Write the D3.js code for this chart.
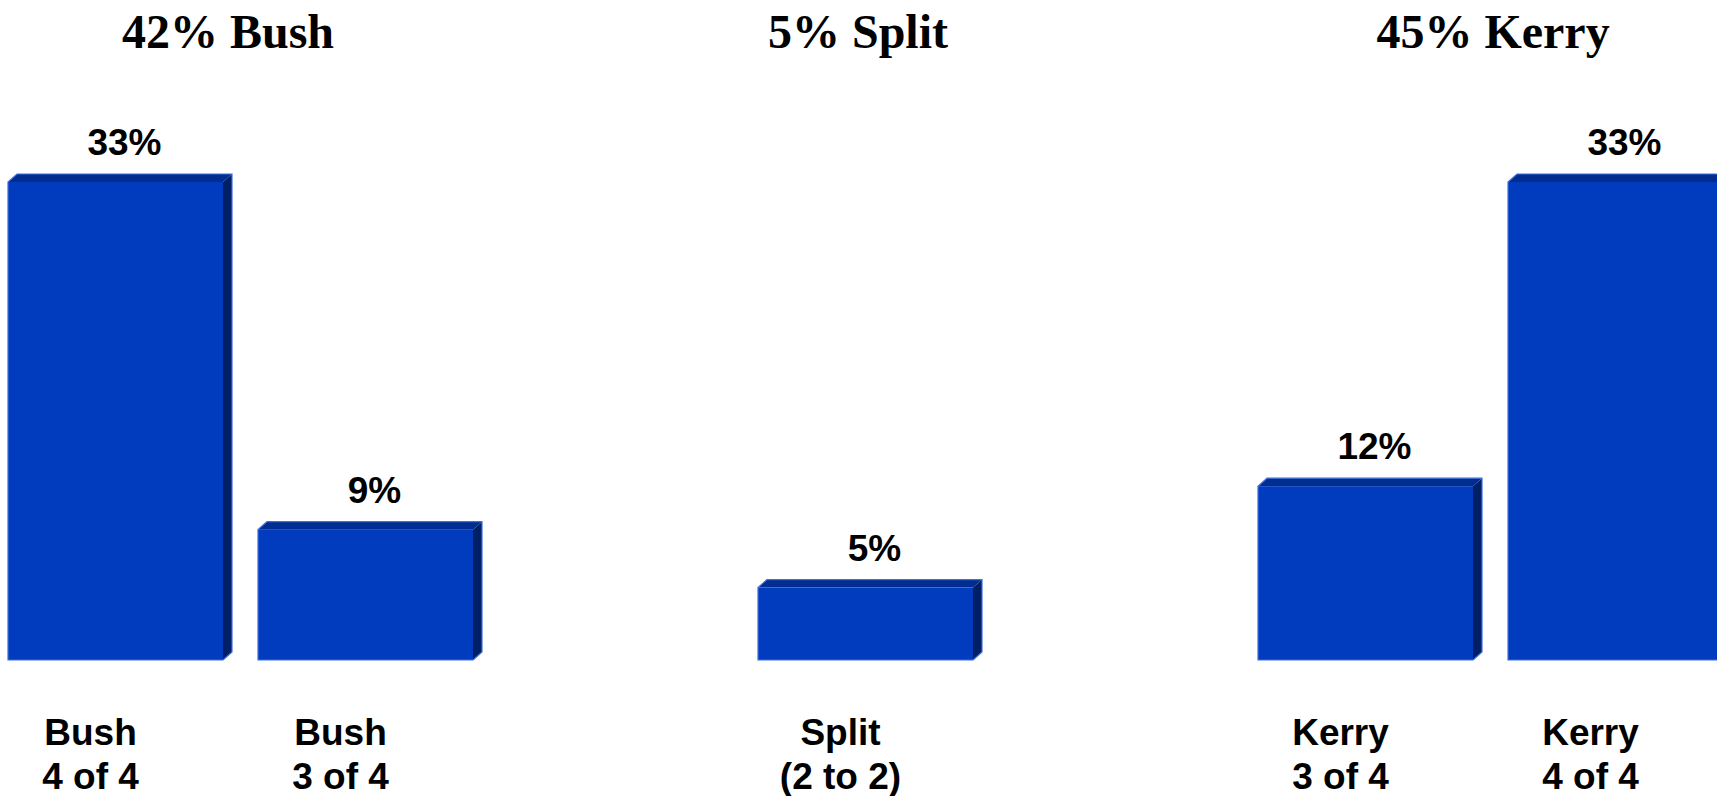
<!DOCTYPE html>
<html>
<head>
<meta charset="utf-8">
<script src="https://cdn.jsdelivr.net/npm/d3@7"></script>
<style>
  html, body { margin: 0; padding: 0; background: #ffffff; overflow: hidden; }
  svg { display: block; }
</style>
</head>
<body>
<svg id="chart" width="1717" height="796"></svg>
<script>
// Slots along the x axis; two of them are empty gaps between the groups.
const slots = ["bush4", "bush3", "gapA", "split", "gapB", "kerry3", "kerry4"];

// Bars: slot, value (%), two-line category label
const barSlots  = ["bush4", "bush3", "split", "kerry3", "kerry4"];
const barValues = [33, 9, 5, 12, 33];
const barLine1  = ["Bush", "Bush", "Split", "Kerry", "Kerry"];
const barLine2  = ["4 of 4", "3 of 4", "(2 to 2)", "3 of 4", "4 of 4"];

// Group headings
const groupTitles = ["42% Bush", "5% Split", "45% Kerry"];
const groupSlotPos = [0.45, 2.97, 5.51];

const svg = d3.select("#chart");

const x = d3.scaleBand()
  .domain(slots)
  .range([8, 1723])
  .paddingInner(0.14)
  .paddingOuter(0);

const y = d3.scaleLinear()
  .domain([0, 33])
  .range([660, 182]);

// slot index -> centre of that slot's bar
const slotCenter = d3.scaleLinear()
  .domain([0, slots.length - 1])
  .range([x(slots[0]) + x.bandwidth() / 2, x(slots[slots.length - 1]) + x.bandwidth() / 2]);

const depthX = 9, depthY = 8;
const cFront = "#003cbd", cTop = "#002d8f", cSide = "#001f66", cEdge = "#3f6ee0";

const bars = barSlots.map((s, i) => ({
  slot: s, value: barValues[i], l1: barLine1[i], l2: barLine2[i]
}));

const g = svg.append("g");

const bar = g.selectAll("g.bar").data(bars).join("g").attr("class", "bar");

// side face
bar.append("path")
  .attr("fill", cSide)
  .attr("d", d => {
    const x1 = x(d.slot) + x.bandwidth(), y0 = y(0), y1 = y(d.value);
    return `M${x1},${y1} L${x1 + depthX},${y1 - depthY} L${x1 + depthX},${y0 - depthY} L${x1},${y0} Z`;
  });
// top face
bar.append("path")
  .attr("fill", cTop)
  .attr("d", d => {
    const x0 = x(d.slot), x1 = x0 + x.bandwidth(), y1 = y(d.value);
    return `M${x0},${y1} L${x0 + depthX},${y1 - depthY} L${x1 + depthX},${y1 - depthY} L${x1},${y1} Z`;
  });
// front face
bar.append("rect")
  .attr("fill", cFront)
  .attr("x", d => x(d.slot))
  .attr("y", d => y(d.value))
  .attr("width", x.bandwidth())
  .attr("height", d => y(0) - y(d.value));
// light outline along the outer edges
bar.append("path")
  .attr("fill", "none")
  .attr("stroke", cEdge)
  .attr("stroke-width", 1.2)
  .attr("d", d => {
    const x0 = x(d.slot), x1 = x0 + x.bandwidth(), y0 = y(0), y1 = y(d.value);
    return `M${x1},${y0} L${x0},${y0} L${x0},${y1} L${x0 + depthX},${y1 - depthY} ` +
           `L${x1 + depthX},${y1 - depthY} L${x1 + depthX},${y0 - depthY} L${x1},${y0}`;
  });

// value labels above each bar
g.selectAll("text.val").data(bars).join("text")
  .attr("class", "val")
  .attr("x", d => x(d.slot) + x.bandwidth() / 2 + 9)
  .attr("y", d => y(d.value) - 27)
  .attr("text-anchor", "middle")
  .attr("font-family", "'Liberation Sans', Arial, sans-serif")
  .attr("font-weight", "bold")
  .attr("font-size", 37)
  .attr("fill", "#000")
  .text(d => d.value + "%");

// category labels below the bars
const cat = g.selectAll("text.cat").data(bars).join("text")
  .attr("class", "cat")
  .attr("text-anchor", "middle")
  .attr("font-family", "'Liberation Sans', Arial, sans-serif")
  .attr("font-weight", "bold")
  .attr("font-size", 37)
  .attr("fill", "#000");
cat.append("tspan")
  .attr("x", d => x(d.slot) + x.bandwidth() / 2 - 25)
  .attr("y", 745)
  .text(d => d.l1);
cat.append("tspan")
  .attr("x", d => x(d.slot) + x.bandwidth() / 2 - 25)
  .attr("y", 789)
  .text(d => d.l2);

// group headings
g.selectAll("text.title").data(groupTitles).join("text")
  .attr("class", "title")
  .attr("x", (d, i) => slotCenter(groupSlotPos[i]))
  .attr("y", 48)
  .attr("text-anchor", "middle")
  .attr("font-family", "'Liberation Serif', 'Times New Roman', serif")
  .attr("font-weight", "bold")
  .attr("font-size", 48)
  .attr("fill", "#000")
  .text(d => d);
</script>
</body>
</html>
